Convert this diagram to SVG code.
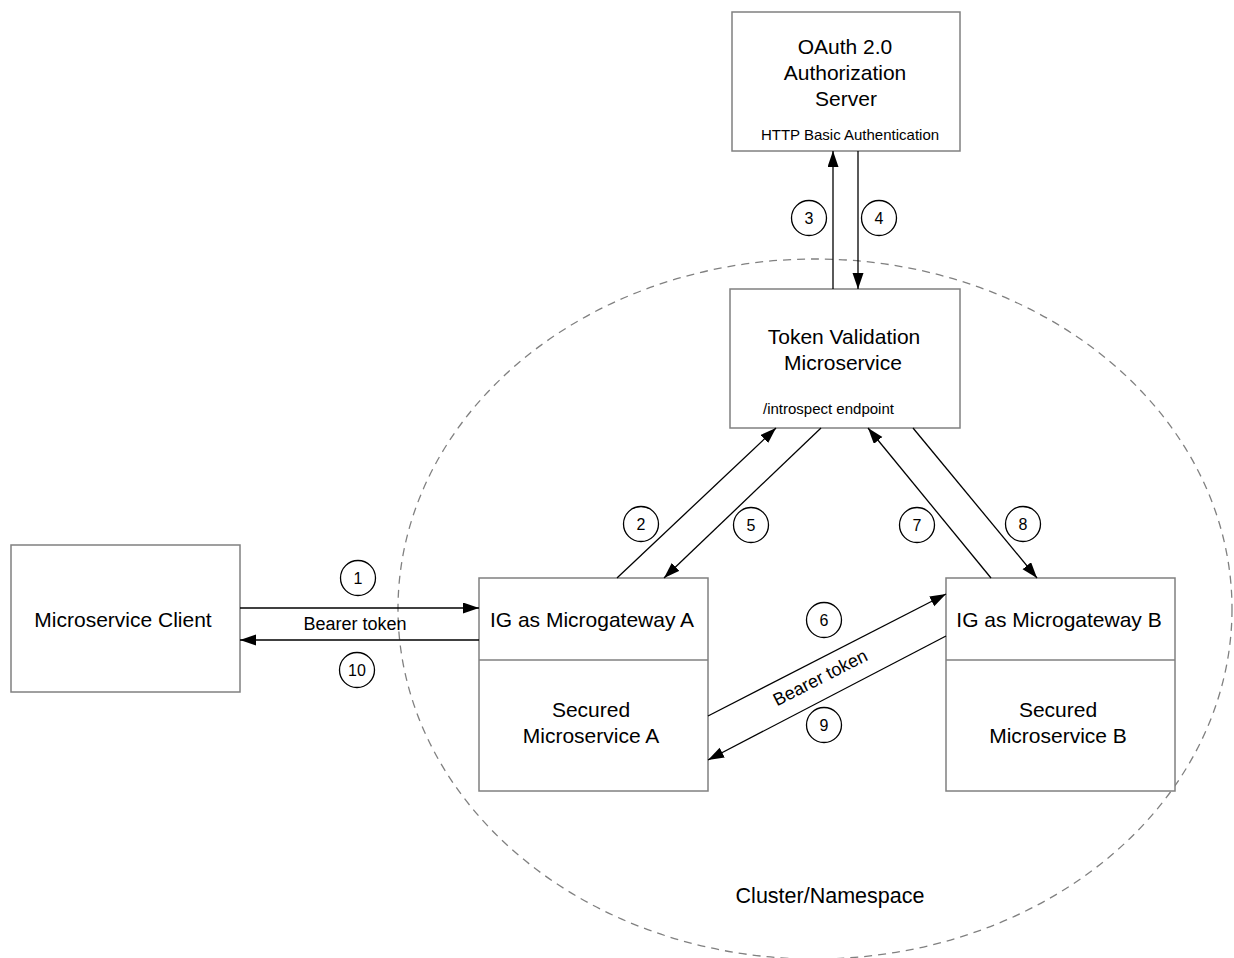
<svg xmlns="http://www.w3.org/2000/svg" width="1234" height="958" viewBox="0 0 1234 958">
<style>
.box{fill:#fff;stroke:#808080;stroke-width:1.5}
.t{font-family:"Liberation Sans",Arial,sans-serif;font-size:21px;fill:#000;text-anchor:middle}
.s{font-family:"Liberation Sans",Arial,sans-serif;font-size:15px;fill:#000}
.lbl{font-family:"Liberation Sans",Arial,sans-serif;font-size:18px;fill:#000;text-anchor:middle}
.num{font-family:"Liberation Sans",Arial,sans-serif;font-size:16px;fill:#000;text-anchor:middle}
.c{fill:#fff;stroke:#000;stroke-width:1.3}
.ln{stroke:#000;stroke-width:1.3;fill:none;marker-end:url(#ah)}
</style>
<defs>
<marker id="ah" markerUnits="userSpaceOnUse" markerWidth="17" markerHeight="12" refX="16" refY="5.5" orient="auto">
<path d="M0,0 L16,5.5 L0,11 z" fill="#000"/>
</marker>
</defs>
<rect width="1234" height="958" fill="#fff"/>
<g id="cluster">
<ellipse cx="815" cy="609" rx="417" ry="350" fill="none" stroke="#808080" stroke-width="1.3" stroke-dasharray="8,6"/>
<text class="t" x="830" y="903" style="font-size:21.5px">Cluster/Namespace</text>
</g>
<g id="oauth">
<rect class="box" x="732" y="12" width="228" height="139"/>
<text class="t" x="845" y="54">OAuth 2.0</text>
<text class="t" x="845" y="80">Authorization</text>
<text class="t" x="846" y="106">Server</text>
<text class="s" x="850" y="140" text-anchor="middle">HTTP Basic Authentication</text>
</g>
<g id="token">
<rect class="box" x="730" y="289" width="230" height="139"/>
<text class="t" x="844" y="344">Token Validation</text>
<text class="t" x="843" y="370">Microservice</text>
<text class="s" x="763" y="414">/introspect endpoint</text>
</g>
<g id="client">
<rect class="box" x="11" y="545" width="229" height="147"/>
<text class="t" x="123" y="627">Microservice Client</text>
</g>
<g id="gwA">
<rect class="box" x="479" y="578" width="229" height="213"/>
<line x1="479" y1="660" x2="708" y2="660" stroke="#808080" stroke-width="1.5"/>
<text class="t" x="592" y="627">IG as Microgateway A</text>
<text class="t" x="591" y="717">Secured</text>
<text class="t" x="591" y="743">Microservice A</text>
</g>
<g id="gwB">
<rect class="box" x="946" y="578" width="229" height="213"/>
<line x1="946" y1="660" x2="1175" y2="660" stroke="#808080" stroke-width="1.5"/>
<text class="t" x="1059" y="627">IG as Microgateway B</text>
<text class="t" x="1058" y="717">Secured</text>
<text class="t" x="1058" y="743">Microservice B</text>
</g>
<g id="connectors">
<line class="ln" x1="240" y1="608" x2="479" y2="608"/>
<line class="ln" x1="479" y1="640" x2="240" y2="640"/>
<text class="lbl" x="355" y="630">Bearer token</text>
<line class="ln" x1="833" y1="289" x2="833" y2="151"/>
<line class="ln" x1="858" y1="151" x2="858" y2="289"/>
<line class="ln" x1="617" y1="578" x2="776" y2="428"/>
<line class="ln" x1="821" y1="428" x2="664" y2="578"/>
<line class="ln" x1="991" y1="578" x2="868" y2="428"/>
<line class="ln" x1="913" y1="428" x2="1037" y2="578"/>
<line class="ln" x1="708" y1="716" x2="946" y2="594"/>
<line class="ln" x1="946" y1="636" x2="708" y2="760"/>
<text class="lbl" x="0" y="0" transform="translate(823,683) rotate(-27)">Bearer token</text>
</g>
<g id="steps">
<circle class="c" cx="358" cy="578" r="17.5"/><text class="num" x="358" y="584">1</text>
<circle class="c" cx="641" cy="524" r="17.5"/><text class="num" x="641" y="530">2</text>
<circle class="c" cx="809" cy="218" r="17.5"/><text class="num" x="809" y="224">3</text>
<circle class="c" cx="879" cy="218" r="17.5"/><text class="num" x="879" y="224">4</text>
<circle class="c" cx="751" cy="525" r="17.5"/><text class="num" x="751" y="531">5</text>
<circle class="c" cx="824" cy="620" r="17.5"/><text class="num" x="824" y="626">6</text>
<circle class="c" cx="917" cy="525" r="17.5"/><text class="num" x="917" y="531">7</text>
<circle class="c" cx="1023" cy="524" r="17.5"/><text class="num" x="1023" y="530">8</text>
<circle class="c" cx="824" cy="725" r="17.5"/><text class="num" x="824" y="731">9</text>
<circle class="c" cx="357" cy="670" r="17.5"/><text class="num" x="357" y="676">10</text>
</g>
</svg>
